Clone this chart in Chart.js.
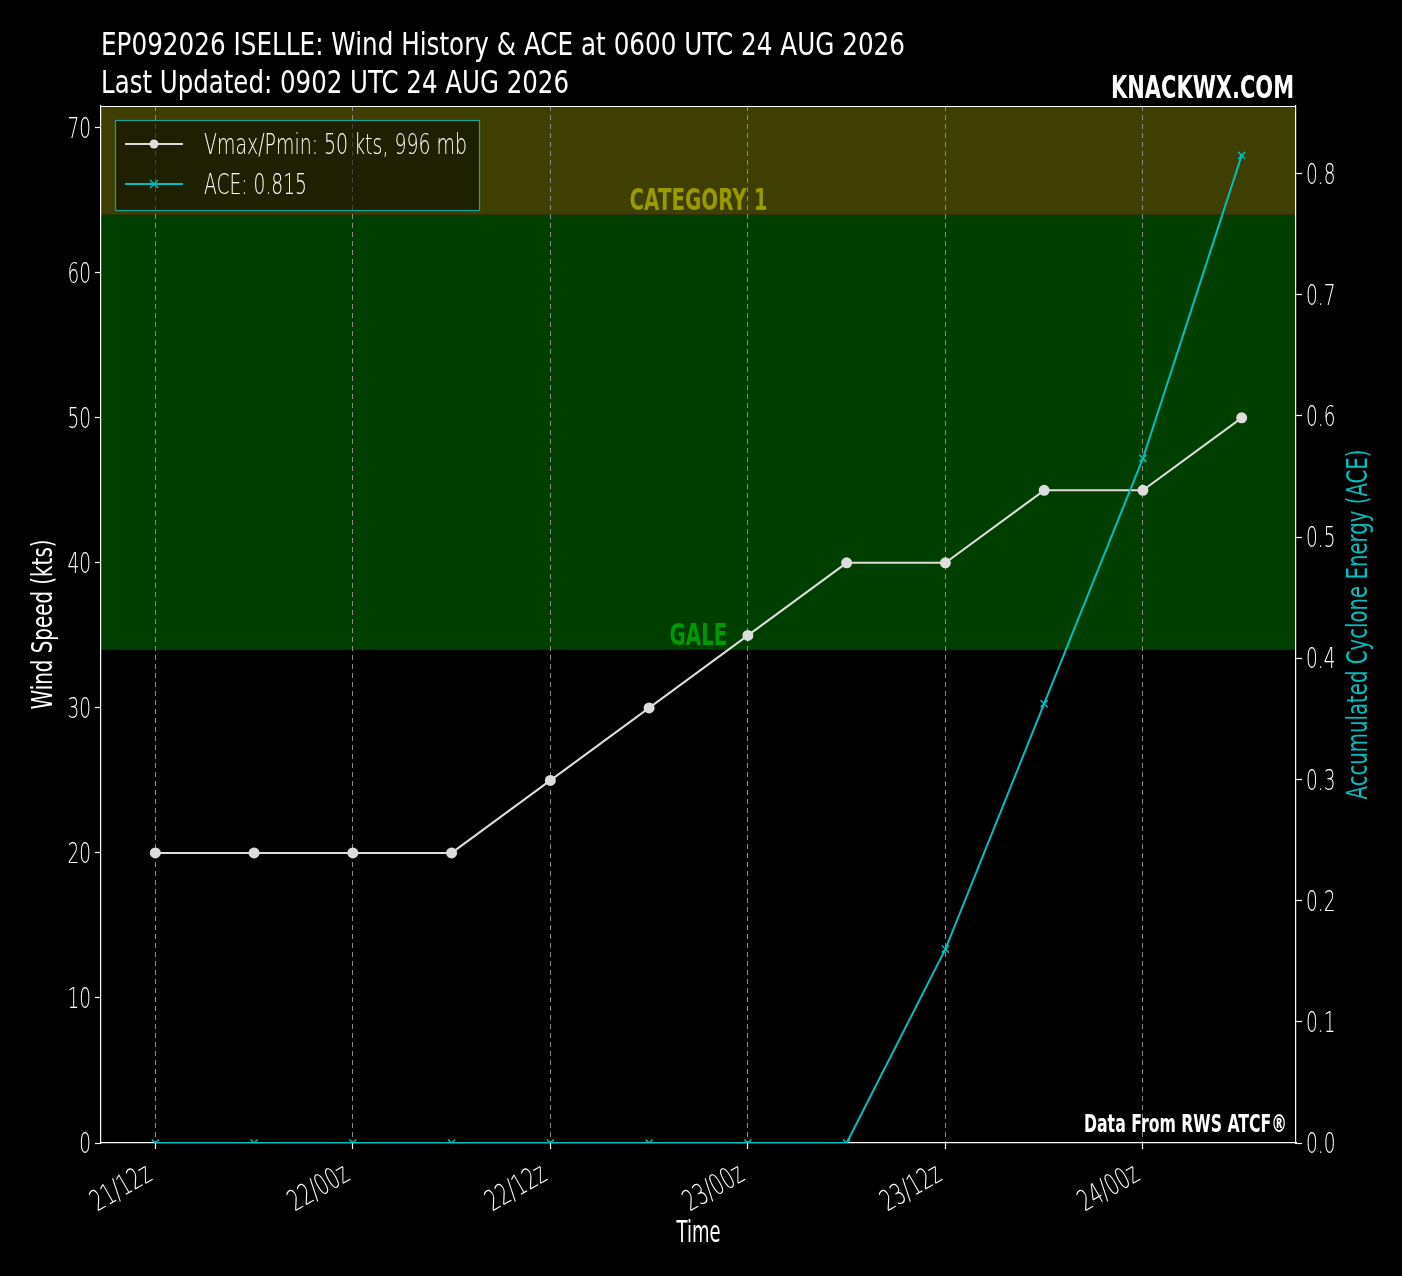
<!DOCTYPE html>
<html><head><meta charset="utf-8">
<script src="https://cdn.jsdelivr.net/npm/chart.js@4.4.1/dist/chart.umd.min.js"></script>
<style>html,body{margin:0;padding:0;background:#000;}#wrap{width:1402px;height:1276px;}</style>
</head><body><div id="wrap"><canvas id="c" width="1402" height="1276"></canvas></div>
<script>
const hours = [0,6,12,18,24,30,36,42,48,54,60,66];
const windKts = [20,20,20,20,25,30,35,40,40,45,45,50];
const aceVals = [0,0,0,0,0,0,0,0,0.160,0.3625,0.565,0.815];
const xTickHours = [0,12,24,36,48,60];
const xTickLabels = ['21/12z','22/00z','22/12z','23/00z','23/12z','24/00z'];
const leftTicks = [0,10,20,30,40,50,60,70];
const rightTicks = [0,0.1,0.2,0.3,0.4,0.5,0.6,0.7,0.8];
const bandFrom = [34,64];
const bandTo = [64,71.5];
const bandLabels = ['GALE','CATEGORY 1'];
const titleLines = ['EP092026 ISELLE: Wind History & ACE at 0600 UTC 24 AUG 2026','Last Updated: 0902 UTC 24 AUG 2026'];
const legendLabels = ['Vmax/Pmin: 50 kts, 996 mb','ACE: 0.815'];

const FAM = '"DejaVu Sans"';
const WIND_C = '#dddddd', ACE_C = '#00bfbf';
const BAND_FILL = ['#003f00','#3f3f04'];
const BAND_TEXT = ['#009900','#999900'];
const CAP = 0.729;

// draw text with horizontally compressed glyphs (narrow look); yc = vertical centre of capitals
function drawText(ctx,text,x,yc,size,opt){
  opt=opt||{};
  ctx.save();
  ctx.font=(opt.weight||'normal')+' '+size+'px '+FAM;
  let sx=opt.sx||0.66;
  if(opt.width){sx=opt.width/ctx.measureText(text).width;}
  ctx.fillStyle=opt.color||'#fff';
  ctx.textAlign=opt.align||'left';
  ctx.textBaseline='alphabetic';
  ctx.translate(x,yc);
  if(opt.rot) ctx.rotate(opt.rot);
  ctx.translate(0,CAP*size/2+(opt.dy||0));
  ctx.scale(sx,1);
  ctx.fillText(text,0,0);
  ctx.restore();
}

const bgPlugin = {
  id:'bg',
  beforeDraw(chart){
    const {ctx, chartArea:a, scales} = chart;
    ctx.save();
    ctx.fillStyle='#000'; ctx.fillRect(0,0,chart.width,chart.height);
    const y = scales.y;
    bandFrom.forEach((f,i)=>{
      const t = y.getPixelForValue(Math.min(bandTo[i], y.max)), bt = y.getPixelForValue(f);
      ctx.fillStyle=BAND_FILL[i]; ctx.fillRect(a.left,t,a.right-a.left,bt-t);
    });
    ctx.restore();
  },
  afterDraw(chart){
    const {ctx, chartArea:a, scales} = chart;
    ctx.save();
    ctx.strokeStyle='#fff'; ctx.lineWidth=1.2;
    ctx.beginPath(); ctx.moveTo(a.left,a.top+0.5); ctx.lineTo(a.right,a.top+0.5); ctx.stroke();
    ctx.restore();
    const mid=(a.left+a.right)/2;
    // band labels
    bandFrom.forEach((f,i)=>{
      const yb=scales.y.getPixelForValue(f);
      drawText(ctx,bandLabels[i],mid,yb-16,31,{weight:'bold',color:BAND_TEXT[i],align:'center',sx:0.64});
    });
    // tick labels
    scales.y.ticks.forEach((t,i)=>drawText(ctx,String(leftTicks[i]),91,scales.y.getPixelForValue(t.value),28,{align:'right',sx:0.66,weight:'200'}));
    scales.y2.ticks.forEach((t,i)=>drawText(ctx,rightTicks[i].toFixed(1),1306,scales.y2.getPixelForValue(t.value),28,{align:'left',sx:0.66,weight:'200'}));
    scales.x.ticks.forEach((t,i)=>{
      const px=scales.x.getPixelForValue(t.value);
      drawText(ctx,xTickLabels[i],px-7,1170,29,{align:'right',sx:0.66,weight:'200',rot:-Math.PI/6});
    });
    // titles
    drawText(ctx,titleLines[0],101,44,31.5,{width:804});
    drawText(ctx,titleLines[1],101,82,31.5,{width:468});
    drawText(ctx,'KNACKWX.COM',1294,87,31.5,{weight:'bold',align:'right',width:183});
    drawText(ctx,'Data From RWS ATCF®',1287,1123,25,{weight:'bold',align:'right',width:203});
    drawText(ctx,'Time',mid,1231,31,{align:'center',width:44});
    drawText(ctx,'Wind Speed (kts)',41,(a.top+a.bottom)/2,29,{align:'center',width:170,rot:-Math.PI/2});
    drawText(ctx,'Accumulated Cyclone Energy (ACE)',1356,(a.top+a.bottom)/2,29,{align:'center',width:350,rot:-Math.PI/2,color:ACE_C});
    // legend
    ctx.save();
    const lx=115, ly=120, lw=364, lh=90;
    ctx.fillStyle='rgba(0,0,0,0.5)'; ctx.fillRect(lx,ly,lw,lh);
    ctx.strokeStyle='#17a29c'; ctx.lineWidth=1.2; ctx.strokeRect(lx+0.5,ly+0.5,lw,lh);
    const rows=[{c:WIND_C,y:144,m:'circle'},{c:ACE_C,y:184,m:'x'}];
    rows.forEach(r=>{
      ctx.strokeStyle=r.c; ctx.lineWidth=2;
      ctx.beginPath(); ctx.moveTo(125,r.y); ctx.lineTo(183,r.y); ctx.stroke();
      if(r.m==='circle'){ctx.fillStyle=r.c; ctx.beginPath(); ctx.arc(154,r.y,4.5,0,Math.PI*2); ctx.fill();}
      else {ctx.lineWidth=1.5; ctx.beginPath(); ctx.moveTo(150,r.y-4);ctx.lineTo(158,r.y+4);ctx.moveTo(158,r.y-4);ctx.lineTo(150,r.y+4);ctx.stroke();}
    });
    ctx.restore();
    drawText(ctx,legendLabels[0],204,144,28,{width:263,weight:'200'});
    drawText(ctx,legendLabels[1],204,184,28,{width:103,weight:'200'});
  }
};

new Chart(document.getElementById('c'),{
  type:'scatter',
  data:{datasets:[
    {label:legendLabels[0],data:hours.map((h,i)=>({x:h,y:windKts[i]})),yAxisID:'y',showLine:true,
     borderColor:WIND_C,backgroundColor:WIND_C,borderWidth:2,pointRadius:4.5,pointStyle:'circle',order:2},
    {label:legendLabels[1],data:hours.map((h,i)=>({x:h,y:aceVals[i]})),yAxisID:'y2',showLine:true,
     borderColor:ACE_C,backgroundColor:ACE_C,borderWidth:2,pointRadius:5,pointStyle:'crossRot',pointBorderWidth:1.5,order:1}
  ]},
  options:{
    responsive:false,animation:false,devicePixelRatio:1,
    layout:{padding:{top:106,left:0,right:0,bottom:0}},
    plugins:{legend:{display:false},tooltip:{enabled:false}},
    scales:{
      x:{type:'linear',min:-3.3,max:69.3,
        afterFit(s){s.height=133;},
        afterBuildTicks(s){s.ticks=xTickHours.map(v=>({value:v}));},
        ticks:{display:false},
        grid:{color:'#8a8a8a',lineWidth:1,tickLength:6,tickColor:'#fff',tickBorderDash:[],tickWidth:1.2},
        border:{color:'#fff',width:1.2,dash:[5,4]}
      },
      y:{type:'linear',position:'left',min:0,max:71.5,
        afterFit(s){s.width=101;},
        afterBuildTicks(s){s.ticks=leftTicks.map(v=>({value:v}));},
        ticks:{display:false},
        grid:{drawOnChartArea:false,tickLength:6,tickColor:'#fff',tickWidth:1.2},
        border:{color:'#fff',width:1.2}
      },
      y2:{type:'linear',position:'right',min:0,max:0.85575,
        afterFit(s){s.width=106;},
        afterBuildTicks(s){s.ticks=rightTicks.map(v=>({value:v}));},
        ticks:{display:false},
        grid:{drawOnChartArea:false,tickLength:6,tickColor:'#fff',tickWidth:1.2},
        border:{color:'#fff',width:1.2}
      }
    }
  },
  plugins:[bgPlugin]
});
</script></body></html>
